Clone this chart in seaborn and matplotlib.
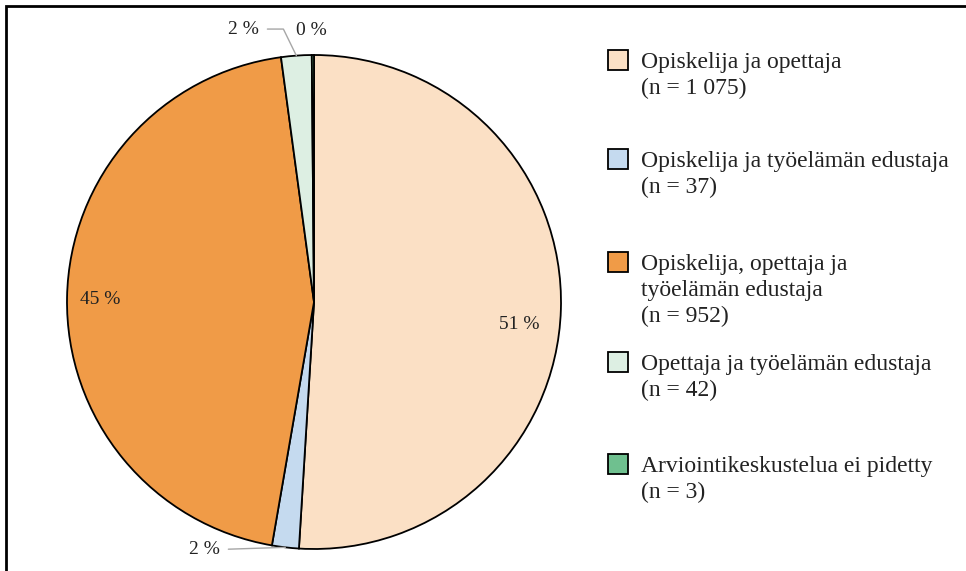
import numpy as np
import matplotlib.pyplot as plt
import seaborn as sns
from matplotlib.patches import Rectangle

# data
categories = ["Opiskelija ja opettaja",
              "Opiskelija ja työelämän edustaja",
              "Opiskelija, opettaja ja\ntyöelämän edustaja",
              "Opettaja ja työelämän edustaja",
              "Arviointikeskustelua ei pidetty"]
counts = [1075, 37, 952, 42, 3]
count_labels = ["1 075", "37", "952", "42", "3"]
colors = ["#FBE0C5", "#C5DAEF", "#F09B47", "#DDEFE3", "#6FC08F"]

sns.set_style("white")
plt.rcParams['font.family'] = ['Liberation Serif', 'DejaVu Serif']

W, H = 966, 571
fig = plt.figure(figsize=(W / 100, H / 100), dpi=100)
fig.patch.set_facecolor('white')

# pie: centre (314, 302) px, radius 247 px
cx, cy, r = 314, 302, 247
ax = fig.add_axes([(cx - r) / W, (H - cy - r) / H, 2 * r / W, 2 * r / H])
wedges, _ = ax.pie(counts, colors=colors, startangle=90, counterclock=False,
                   wedgeprops=dict(edgecolor='black', linewidth=1.3))
ax.set_xlim(-1, 1)
ax.set_ylim(-1, 1)
ax.set_aspect('equal')
ax.axis('off')

total = sum(counts)
pcts = [f"{round(c / total * 100)} %" for c in counts]

# label positions (in pie radius units) and whether a leader line is drawn
label_pos = [(0.83, -0.093), (-0.445, -1.004), (-0.866, 0.012), (-0.287, 1.105), (-0.01, 1.10)]
leader = [None, 'arc3', None, 'angle,angleA=0,angleB=116,rad=0', None]

for w, txt, (lx, ly), conn in zip(wedges, pcts, label_pos, leader):
    if conn is None:
        ax.text(lx, ly, txt, ha='center', va='center', fontsize=14, color='#222222')
    else:
        mid = np.deg2rad((w.theta1 + w.theta2) / 2)
        ax.annotate(txt, xy=(np.cos(mid), np.sin(mid)), xytext=(lx, ly),
                    ha='center', va='center', fontsize=14, color='#222222',
                    annotation_clip=False,
                    arrowprops=dict(arrowstyle='-', color='#A6A6A6', lw=1.0,
                                    connectionstyle=conn, shrinkA=4, shrinkB=0))

# legend, drawn by hand to keep Excel-like spacing
baselines = [68, 167, 270, 370, 472]
line_gap = 26
for lab, n, col, base in zip(categories, count_labels, colors, baselines):
    fig.add_artist(Rectangle((608 / W, (H - base - 2) / H), 20 / W, 20 / H,
                             transform=fig.transFigure, facecolor=col,
                             edgecolor='black', linewidth=1.3))
    lines = lab.split("\n") + [f"(n = {n})"]
    for i, line in enumerate(lines):
        fig.text(641 / W, (H - base - i * line_gap) / H, line, ha='left',
                 va='baseline', fontsize=17, color='#222222')

# outer frame (only top and left visible in the crop)
fig.add_artist(Rectangle((6 / W, -0.1), 1.2, 1 - 6 / H + 0.1,
                         transform=fig.transFigure, fill=False,
                         edgecolor='black', linewidth=2.0, clip_on=False))

fig.savefig("out.png", dpi=100)
